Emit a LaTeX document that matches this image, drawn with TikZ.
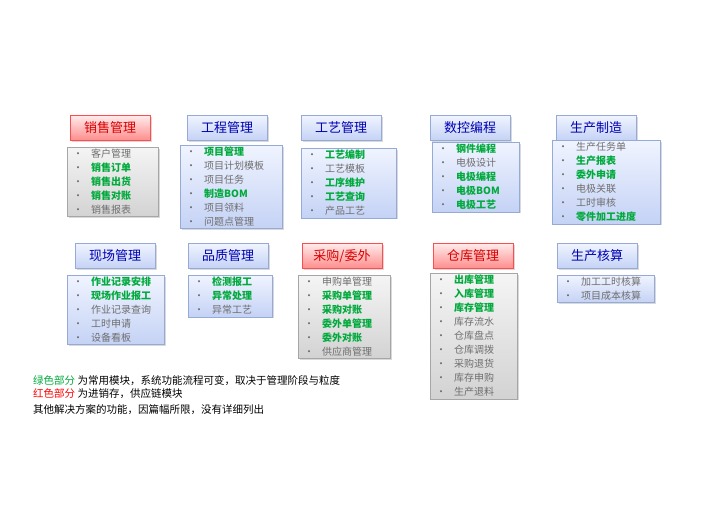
\documentclass[tikz,border=0pt]{standalone}
\usepackage{fontspec}
\setmainfont{Noto Sans CJK SC}
\usetikzlibrary{shadows}
\definecolor{itemgreen}{RGB}{0,170,60}
\definecolor{itemgray}{RGB}{110,110,110}
\definecolor{bluetop}{RGB}{240,244,255}
\definecolor{bluebot}{RGB}{196,210,245}
\definecolor{blueline}{RGB}{150,170,215}
\newcommand{\gi}[1]{{\color{itemgray}\textbullet}\hspace{8pt}\textcolor{itemgreen}{\bfseries #1}}
\newcommand{\ki}[1]{{\color{itemgray}\textbullet}\hspace{8pt}\textcolor{itemgray}{#1}}
\tikzset{
  titlebox/.style={draw=blueline,top color=bluetop,bottom color=bluebot,
    minimum width=80pt,minimum height=25pt,inner sep=0pt,font=\fontsize{13}{15}\selectfont,
    text=blue!70!black,drop shadow={opacity=0.3,shadow xshift=1.5pt,shadow yshift=-1.5pt}},
  redbox/.style={titlebox,draw=red!70,top color=red!8,bottom color=red!45,text=red!85!black},
  listbox/.style={draw=blueline,top color=bluetop,bottom color=bluebot,anchor=north west,
    align=left,inner xsep=6pt,inner ysep=2pt,font=\fontsize{10}{14}\selectfont,
    drop shadow={opacity=0.3,shadow xshift=1.5pt,shadow yshift=-1.5pt}},
  graylist/.style={listbox,draw=gray!70,top color=gray!8,bottom color=gray!35},
  notetext/.style={anchor=west,font=\fontsize{10.5}{12}\selectfont,inner sep=0pt},
}
\begin{document}
\begin{tikzpicture}[x=1pt,y=-1pt]
  \useasboundingbox (0,0) rectangle (704,528);

  % first row
  \node[redbox]   (sales)  at (110,128) {销售管理};
  \node[titlebox] (proj)   at (227,128) {工程管理};
  \node[titlebox] (tech)   at (341,128) {工艺管理};
  \node[titlebox] (nc)     at (470,128) {数控编程};
  \node[titlebox] (prod)   at (596,128) {生产制造};

  \node[graylist,text width=79pt] (salesl) at (67,147)
    {\ki{客户管理}\\\gi{销售订单}\\\gi{销售出货}\\\gi{销售对账}\\\ki{销售报表}};
  \node[listbox,text width=90pt] (projl) at (180,145)
    {\gi{项目管理}\\\ki{项目计划模板}\\\ki{项目任务}\\\gi{制造BOM}\\\ki{项目领料}\\\ki{问题点管理}};
  \node[listbox,text width=83pt] (techl) at (301,148)
    {\gi{工艺编制}\\\ki{工艺模板}\\\gi{工序维护}\\\gi{工艺查询}\\\ki{产品工艺}};
  \node[listbox,text width=75pt] (ncl) at (432,142)
    {\gi{钢件编程}\\\ki{电极设计}\\\gi{电极编程}\\\gi{电极BOM}\\\gi{电极工艺}};
  \node[listbox,text width=96pt] (prodl) at (552,140)
    {\ki{生产任务单}\\\gi{生产报表}\\\gi{委外申请}\\\ki{电极关联}\\\ki{工时审核}\\\gi{零件加工进度}};

  % second row
  \node[titlebox] (site)   at (115,256) {现场管理};
  \node[titlebox] (qual)   at (228,256) {品质管理};
  \node[redbox]   (purch)  at (342,256) {采购/委外};
  \node[redbox]   (stock)  at (473,256) {仓库管理};
  \node[titlebox] (cost)   at (597,256) {生产核算};

  \node[listbox,text width=85pt] (sitel) at (67,275)
    {\gi{作业记录安排}\\\gi{现场作业报工}\\\ki{作业记录查询}\\\ki{工时申请}\\\ki{设备看板}};
  \node[listbox,text width=72pt] (quall) at (188,275)
    {\gi{检测报工}\\\gi{异常处理}\\\ki{异常工艺}};
  \node[graylist,text width=80pt] (purchl) at (298,275)
    {\ki{申购单管理}\\\gi{采购单管理}\\\gi{采购对账}\\\gi{委外单管理}\\\gi{委外对账}\\\ki{供应商管理}};
  \node[graylist,text width=75pt] (stockl) at (430,273)
    {\gi{出库管理}\\\gi{入库管理}\\\gi{库存管理}\\\ki{库存流水}\\\ki{仓库盘点}\\\ki{仓库调拨}\\\ki{采购退货}\\\ki{库存申购}\\\ki{生产退料}};
  \node[listbox,text width=85pt] (costl) at (557,275)
    {\ki{加工工时核算}\\\ki{项目成本核算}};

  % notes
  \node[notetext] (note1) at (33,381)
    {\textcolor{itemgreen}{绿色部分} 为常用模块，系统功能流程可变，取决于管理阶段与粒度};
  \node[notetext] (note2) at (33,394)
    {\textcolor{red}{红色部分} 为进销存，供应链模块};
  \node[notetext] (note3) at (33,410)
    {其他解决方案的功能，因篇幅所限，没有详细列出};
\end{tikzpicture}
\end{document}
